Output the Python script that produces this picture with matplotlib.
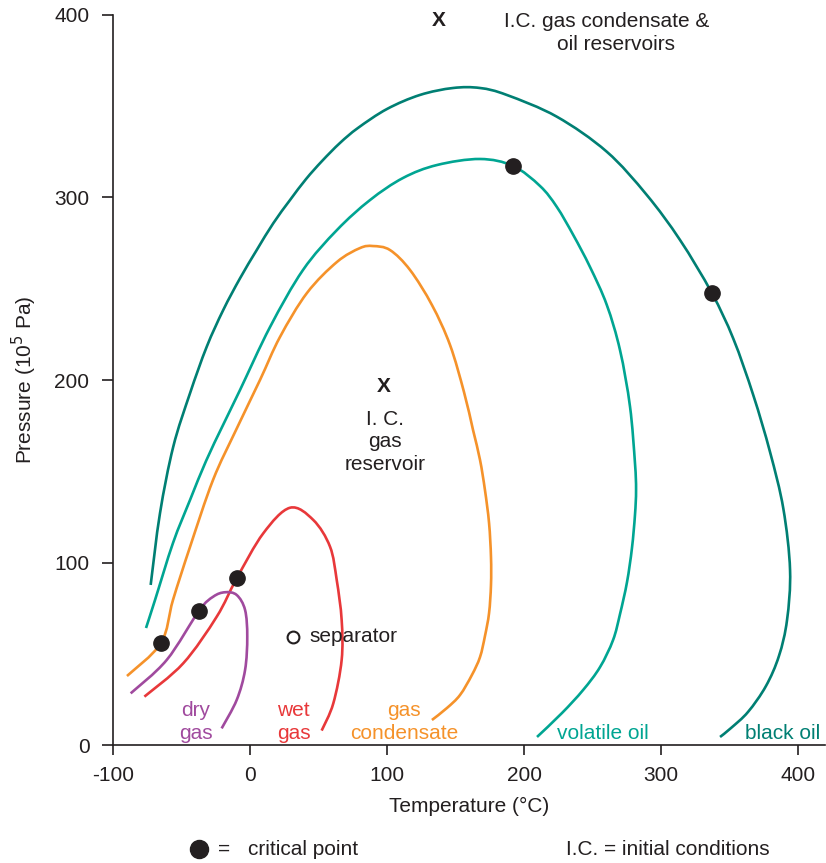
import matplotlib
matplotlib.use("Agg")
import matplotlib.pyplot as plt
from matplotlib.path import Path
from matplotlib.patches import PathPatch
import numpy as np

plt.rcParams['font.family'] = ['Liberation Sans', 'DejaVu Sans']
plt.rcParams['axes.unicode_minus'] = False

# ---- data (temperature in degC, pressure in 1e5 Pa) ----
black_oil_T = [-72.5, -65.7, -56.0, -43.8, -31.6, -19.5, -7.3, 4.9, 17.0, 29.2, 40.9, 52.6,
               65.7, 78.8, 100.0, 124.1, 148.2, 167.9, 187.4, 223.9, 260.4, 289.6, 313.9, 337.0,
               352.8, 367.4, 379.6, 389.3, 394.2, 392.0, 386.1, 376.6, 363.5, 351.1, 343.1]
black_oil_P = [87.7, 127.0, 163.5, 192.7, 218.2, 238.4, 255.7, 271.2, 285.9, 298.6, 310.1, 320.0,
               329.9, 338.1, 348.5, 356.2, 360.0, 360.0, 356.2, 344.3, 325.1, 301.4, 276.7, 247.8,
               222.6, 191.6, 160.5, 129.5, 95.9, 68.5, 48.8, 32.3, 18.1, 9.3, 4.4]

volatile_T = [-75.9, -69.3, -56.2, -43.8, -32.1, -19.7, -7.3, 14.6, 38.7, 63.5, 87.6, 111.7,
              136.5, 167.9, 192.0, 211.7, 223.9, 236.0, 248.2, 260.4, 270.1, 277.4, 281.0,
              281.8, 281.0, 278.8, 275.2, 270.1, 265.0, 255.5, 243.1, 227.7, 209.5]
volatile_P = [64.1, 79.5, 110.7, 134.2, 155.6, 175.3, 194.5, 229.0, 260.3, 282.2, 298.6, 310.7,
              317.8, 321.1, 317.3, 306.3, 294.9, 279.4, 261.9, 241.2, 216.3, 185.3, 154.5,
              139.7, 126.0, 107.9, 89.3, 71.8, 57.5, 42.7, 30.1, 17.5, 4.4]

condensate_T = [-89.8, -65.0, -56.2, -43.8, -27.0, -10.2, 7.3, 21.9, 41.6, 63.5, 80.3, 89.8,
                102.2, 116.8, 132.8, 146.0, 156.2, 162.8, 167.9, 171.5, 174.5, 175.9, 175.9,
                174.5, 171.5, 167.9, 162.0, 153.3, 143.8, 132.8]
condensate_P = [37.8, 55.9, 79.5, 108.5, 145.2, 172.6, 200.0, 223.6, 247.7, 264.7, 272.3, 273.4,
                271.2, 260.3, 241.1, 219.2, 193.4, 172.6, 156.2, 139.7, 121.6, 103.0, 87.7,
                72.3, 59.7, 48.2, 38.4, 27.4, 20.3, 13.7]

dry_T = [-87.1, -60.8, -37.2, -26.8, -18.2, -9.7, -3.6, -2.0, -3.6, -9.7, -20.7]
dry_P = [28.3, 46.6, 73.6, 81.3, 83.7, 82.2, 74.0, 59.3, 41.1, 24.7, 9.1]

wet_T = [-77.1, -48.7, -24.3, -9.7, 9.7, 29.2, 46.2, 58.4, 63.3, 66.9, 66.9, 60.8, 52.3]
wet_P = [26.5, 44.8, 70.3, 91.3, 116.0, 130.0, 123.3, 108.7, 90.4, 68.5, 46.6, 22.8, 7.9]

critical_T = [-65.0, -37.2, -9.7, 192.0, 337.0]
critical_P = [55.9, 73.6, 91.3, 317.3, 247.8]

separator_T = [31.4]
separator_P = [59.2]

x_ticks = [-100, 0, 100, 200, 300, 400]
y_ticks = [0, 100, 200, 300, 400]

C_BLACK = '#007f73'
C_VOL = '#00a592'
C_COND = '#f5922a'
C_WET = '#e8383a'
C_DRY = '#a04a9e'
C_INK = '#231f20'


def smooth_path(xs, ys):
    """Cubic Bezier path passing through the given points (Catmull-Rom tangents)."""
    p = np.column_stack([xs, ys]).astype(float)
    n = len(p)
    verts = [p[0]]
    codes = [Path.MOVETO]
    for i in range(n - 1):
        p0 = p[i - 1] if i > 0 else p[i]
        p1 = p[i]
        p2 = p[i + 1]
        p3 = p[i + 2] if i + 2 < n else p[i + 1]
        c1 = p1 + (p2 - p0) / 6.0
        c2 = p2 - (p3 - p1) / 6.0
        verts += [c1, c2, p2]
        codes += [Path.CURVE4] * 3
    return Path(verts, codes)


fig = plt.figure(figsize=(8.26, 8.63), dpi=100)
ax = fig.add_axes([113 / 826, 1 - 745 / 863, 712.4 / 826, 730 / 863])

lw = 1.9
for T, P, c in [(black_oil_T, black_oil_P, C_BLACK), (volatile_T, volatile_P, C_VOL),
                (condensate_T, condensate_P, C_COND), (wet_T, wet_P, C_WET), (dry_T, dry_P, C_DRY)]:
    ax.add_patch(PathPatch(smooth_path(T, P), facecolor='none', edgecolor=c, lw=lw,
                           capstyle='butt', joinstyle='round', zorder=2))

ax.plot(critical_T, critical_P, 'o', color=C_INK, ms=11, zorder=5)
ax.plot(separator_T, separator_P, 'o', mfc='white', mec=C_INK, mew=1.5, ms=8.5, zorder=5)

ax.set_xlim(-100, 420)
ax.set_ylim(0, 400)
ax.set_xticks(x_ticks)
ax.set_yticks(y_ticks)
ax.spines['top'].set_visible(False)
ax.spines['right'].set_visible(False)
for s in ['left', 'bottom']:
    ax.spines[s].set_linewidth(1.2)
    ax.spines[s].set_color(C_INK)
ax.tick_params(axis='x', direction='out', length=7, width=1.2, color=C_INK, labelsize=15,
               pad=8, labelcolor=C_INK)
ax.tick_params(axis='y', direction='out', length=8, width=1.2, color=C_INK, labelsize=15,
               pad=9, labelcolor=C_INK)
ax.set_xlabel('Temperature (°C)', fontsize=15, color=C_INK, labelpad=9)
ax.set_ylabel('Pressure (10$^5$ Pa)', fontsize=15, color=C_INK, labelpad=11)

fs = 15
# curve labels
ax.text(-39.4, 15.9, 'dry', color=C_DRY, fontsize=fs, ha='center', va='baseline')
ax.text(-39.4, 3.3, 'gas', color=C_DRY, fontsize=fs, ha='center', va='baseline')
ax.text(32.0, 15.9, 'wet', color=C_WET, fontsize=fs, ha='center', va='baseline')
ax.text(32.0, 3.3, 'gas', color=C_WET, fontsize=fs, ha='center', va='baseline')
ax.text(112.5, 15.9, 'gas', color=C_COND, fontsize=fs, ha='center', va='baseline')
ax.text(112.5, 3.3, 'condensate', color=C_COND, fontsize=fs, ha='center', va='baseline')
ax.text(257.7, 3.3, 'volatile oil', color=C_VOL, fontsize=fs, ha='center', va='baseline')
ax.text(389.0, 3.3, 'black oil', color=C_BLACK, fontsize=fs, ha='center', va='baseline')

ax.text(43.5, 59.2, 'separator', color=C_INK, fontsize=fs, ha='left', va='center')

# initial-condition annotations
ax.text(97.8, 196.7, 'X', color=C_INK, fontsize=fs, fontweight='bold', ha='center', va='center')
ax.text(98.5, 175.3, 'I. C.', color=C_INK, fontsize=fs, ha='center', va='baseline')
ax.text(98.5, 163.3, 'gas', color=C_INK, fontsize=fs, ha='center', va='baseline')
ax.text(98.5, 150.7, 'reservoir', color=C_INK, fontsize=fs, ha='center', va='baseline')

ax.text(138.0, 397.0, 'X', color=C_INK, fontsize=fs, fontweight='bold', ha='center', va='center',
        clip_on=False)
ax.text(260.0, 393.2, 'I.C. gas condensate &', color=C_INK, fontsize=fs, ha='center', va='baseline')
ax.text(267.5, 380.6, 'oil reservoirs', color=C_INK, fontsize=fs, ha='center', va='baseline')

# bottom key
ax.plot([199 / 826], [1 - 849 / 863], 'o', color=C_INK, ms=13, transform=fig.transFigure,
        clip_on=False)
fig.text(218 / 826, 1 - 849 / 863, '=', color=C_INK, fontsize=fs, ha='left', va='center')
fig.text(248 / 826, 1 - 849 / 863, 'critical point', color=C_INK, fontsize=fs, ha='left', va='center')
fig.text(566 / 826, 1 - 849 / 863, 'I.C. = initial conditions', color=C_INK, fontsize=fs,
         ha='left', va='center')

fig.savefig('out.png', dpi=100)
